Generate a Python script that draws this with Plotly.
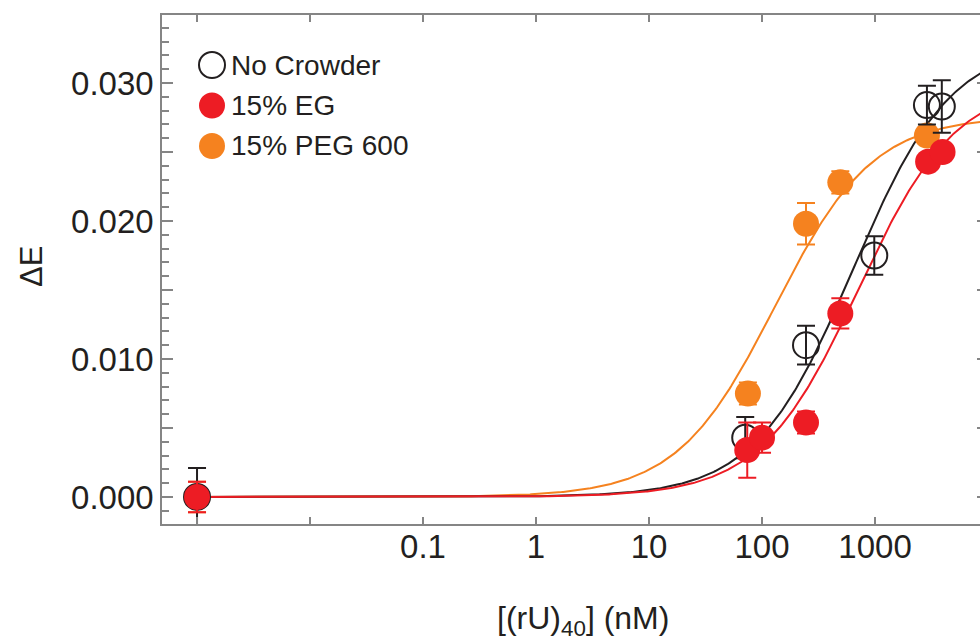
import numpy as np
import plotly.graph_objects as go

# Ligand concentrations in nM (the no-ligand point sits at 0.001 nM on the log axis)
nc_x = [0.001, 71, 245, 985, 2880, 3900]
nc_y = [0.0, 0.0043, 0.0110, 0.0175, 0.0284, 0.0283]
nc_err = [0.0021, 0.0015, 0.0014, 0.0014, 0.0014, 0.0019]

eg_x = [0.001, 74, 100, 245, 493, 2950, 3960]
eg_y = [0.0, 0.0034, 0.0043, 0.0054, 0.0133, 0.0243, 0.0250]
eg_err = [0.0011, 0.0020, 0.0011, 0.0008, 0.0011, 0.0005, 0.0005]

peg_x = [0.001, 75, 245, 493, 2880]
peg_y = [0.0, 0.0075, 0.0198, 0.0228, 0.0262]
peg_err = [0.0011, 0.0008, 0.0015, 0.0008, 0.0006]

# Single-site binding fits: dE = dEmax * x / (Kd + x)
nc_dEmax, nc_Kd = 0.0330, 640.0
eg_dEmax, eg_Kd = 0.0301, 711.0
peg_dEmax, peg_Kd = 0.0276, 130.0

series_names = ["No Crowder", "15% EG", "15% PEG 600"]

# decade ticks (all) and the labelled subset
x_decades = [0.001, 0.01, 0.1, 1, 10, 100, 1000]
x_labelled = [0.1, 1, 10, 100, 1000]
x_labels = ["0.1", "1", "10", "100", "1000"]
y_labelled = [0.0, 0.010, 0.020, 0.030]
y_labels = ["0.000", "0.010", "0.020", "0.030"]
y_half = [0.005, 0.015, 0.025]
y_all = [0.0, 0.005, 0.010, 0.015, 0.020, 0.025, 0.030]

BLACK = "#231f20"
RED = "#ed1c24"
ORANGE = "#f5821f"
AXIS = "#858585"
FONT = "Liberation Sans, Arial, sans-serif"

X_RANGE = [-3.310, 3.929]
Y_RANGE = [-0.00196, 0.03493]


def binding(x, dEmax, Kd):
    x = np.asarray(x, dtype=float)
    return dEmax * x / (Kd + x)


x_fit = np.logspace(-3, 4, 500)

fig = go.Figure()

# invisible anchors so the extra tick axes are drawn
fig.add_trace(go.Scatter(x=[0.001], y=[0.0], xaxis="x", yaxis="y2",
                         mode="markers", marker=dict(opacity=0),
                         hoverinfo="skip", showlegend=False))
fig.add_trace(go.Scatter(x=[0.001], y=[0.0], xaxis="x2", yaxis="y3",
                         mode="markers", marker=dict(opacity=0),
                         hoverinfo="skip", showlegend=False))

# fitted curves
for dEmax, Kd, col in [(peg_dEmax, peg_Kd, ORANGE),
                       (nc_dEmax, nc_Kd, BLACK),
                       (eg_dEmax, eg_Kd, RED)]:
    fig.add_trace(go.Scatter(x=x_fit, y=binding(x_fit, dEmax, Kd),
                             mode="lines", line=dict(color=col, width=2),
                             showlegend=False, hoverinfo="skip"))

# measured points with error bars
fig.add_trace(go.Scatter(
    x=peg_x, y=peg_y, mode="markers", name=series_names[2],
    marker=dict(symbol="circle", size=26, color=ORANGE, line=dict(width=0)),
    error_y=dict(type="data", array=peg_err, color=ORANGE, thickness=2, width=9),
    showlegend=False))
fig.add_trace(go.Scatter(
    x=nc_x, y=nc_y, mode="markers", name=series_names[0],
    marker=dict(symbol="circle-open", size=26, color=BLACK,
                line=dict(width=2, color=BLACK)),
    error_y=dict(type="data", array=nc_err, color=BLACK, thickness=2, width=9),
    showlegend=False))
fig.add_trace(go.Scatter(
    x=eg_x, y=eg_y, mode="markers", name=series_names[1],
    marker=dict(symbol="circle", size=26, color=RED, line=dict(width=0)),
    error_y=dict(type="data", array=eg_err, color=RED, thickness=2, width=9),
    showlegend=False))

# legend drawn as shapes + text in the upper-left corner
legend_rows = [(series_names[0], None, BLACK),
               (series_names[1], RED, RED),
               (series_names[2], ORANGE, ORANGE)]
W, H = 980, 644
ML, MR, MT, MB = 162, 0, 15, 120
pw, ph = W - ML - MR, H - MT - MB


def px_to_paper(px, py):
    return (px - ML) / pw, (H - MB - py) / ph


shapes = []
annotations = []
for i, (label, fill, edge) in enumerate(legend_rows):
    cy = 65 + 40.5 * i
    xp, yp = px_to_paper(212, cy)
    shapes.append(dict(type="circle", xref="paper", yref="paper",
                       xsizemode="pixel", ysizemode="pixel",
                       xanchor=xp, yanchor=yp, x0=-13, x1=13, y0=-13, y1=13,
                       fillcolor=fill if fill else "rgba(0,0,0,0)",
                       line=dict(color=edge, width=2 if fill is None else 0)))
    tx, ty = px_to_paper(229, cy)
    annotations.append(dict(text=label, x=tx, y=ty, xref="paper", yref="paper",
                            xanchor="left", yanchor="middle", showarrow=False,
                            font=dict(family=FONT, size=28, color=BLACK)))

# axis titles
ax, ay = px_to_paper(31, 267)
annotations.append(dict(text="ΔE", x=ax, y=ay, xref="paper", yref="paper",
                        xanchor="center", yanchor="middle", textangle=-90,
                        showarrow=False,
                        font=dict(family=FONT, size=31, color=BLACK)))
bx, by = px_to_paper(583, 620)
annotations.append(dict(text="[(rU)<sub>40</sub>] (nM)", x=bx, y=by,
                        xref="paper", yref="paper", xanchor="center",
                        yanchor="middle", showarrow=False,
                        font=dict(family=FONT, size=32, color=BLACK)))

tick_font = dict(family=FONT, size=33, color=BLACK)

fig.update_layout(
    width=W, height=H,
    margin=dict(l=ML, r=MR, t=MT, b=MB, pad=0),
    paper_bgcolor="white", plot_bgcolor="white",
    showlegend=False,
    shapes=shapes, annotations=annotations,
    # frame + decade ticks on bottom and top
    xaxis=dict(type="log", range=X_RANGE,
               tickmode="array", tickvals=x_decades, showticklabels=False,
               ticks="inside", ticklen=7, tickwidth=1.5, tickcolor=AXIS,
               showline=True, linecolor=AXIS, linewidth=1.5, mirror="ticks",
               showgrid=False, zeroline=False),
    # labelled decades
    xaxis2=dict(type="log", range=X_RANGE, overlaying="x", side="bottom",
                tickmode="array", tickvals=x_labelled, ticktext=x_labels,
                ticks="", showline=False, showgrid=False, zeroline=False,
                tickfont=tick_font),
    # left axis: labelled ticks + minor ticks every 0.001
    yaxis=dict(range=Y_RANGE,
               tickmode="array", tickvals=y_labelled, ticktext=y_labels,
               ticks="inside", ticklen=11, tickwidth=1.5, tickcolor=AXIS,
               minor=dict(dtick=0.001, ticks="inside", ticklen=7,
                          tickwidth=1.5, tickcolor=AXIS, showgrid=False),
               showline=True, linecolor=AXIS, linewidth=1.5,
               showgrid=False, zeroline=False, tickfont=tick_font),
    # right edge ticks
    yaxis2=dict(range=Y_RANGE, overlaying="y", side="right",
                tickmode="array", tickvals=y_all, showticklabels=False,
                ticks="inside", ticklen=3, tickwidth=1.5, tickcolor=AXIS,
                showline=False, showgrid=False, zeroline=False),
    # unlabelled half-step ticks on the left
    yaxis3=dict(range=Y_RANGE, overlaying="y", side="left",
                tickmode="array", tickvals=y_half, showticklabels=False,
                ticks="inside", ticklen=11, tickwidth=1.5, tickcolor=AXIS,
                showline=False, showgrid=False, zeroline=False),
)

fig.write_html("out.html")
